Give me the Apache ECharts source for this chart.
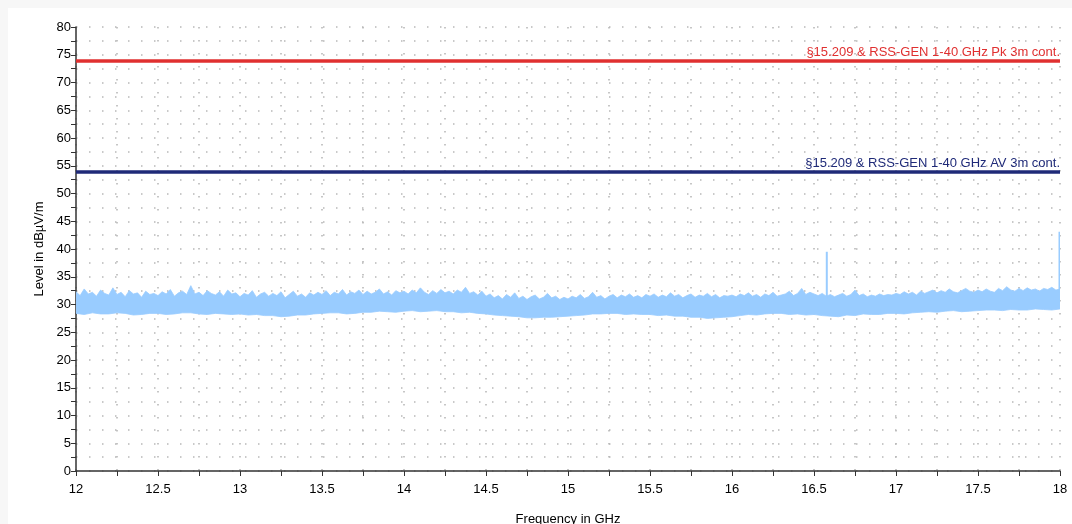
<!DOCTYPE html>
<html>
<head>
<meta charset="utf-8">
<script src="https://cdn.jsdelivr.net/npm/echarts@6/dist/echarts.min.js"></script>
<style>
html,body{margin:0;padding:0;background:#f7f7f7;}
#chart{width:1072px;height:524px;}
</style>
</head>
<body>
<div id="chart"></div>
<script>
// ---- data ----
const xMin = 12, xMax = 18;
const yMin = 0, yMax = 80;
// upper envelope of the noise trace, 12.000 .. 18.000 GHz in 0.025 GHz steps
const highStart = 12, highStep = 0.025;
const noiseHigh = [
 32.3,31.6,32.8,31.9,32.2,31.5,32.6,32.0,31.7,33.0,31.8,32.2,31.4,32.5,31.9,32.1,31.3,32.4,31.8,32.0,
 31.6,32.3,31.9,32.7,31.5,32.1,32.4,31.8,33.4,31.9,32.2,31.6,32.5,32.0,31.7,32.3,31.5,32.6,31.9,32.1,
 31.4,32.0,31.7,32.5,31.3,31.9,32.2,31.5,32.0,31.6,32.3,31.2,31.8,32.4,31.5,31.9,31.3,32.1,31.7,32.2,
 31.8,32.5,31.6,32.2,31.9,32.7,31.7,32.3,32.0,32.6,31.8,32.4,31.9,32.2,32.8,31.9,32.3,31.7,32.5,32.1,
 32.4,31.9,32.6,32.1,33.0,32.2,31.8,32.5,32.0,32.7,32.1,32.4,31.9,32.6,32.2,33.1,32.0,32.3,31.7,32.4,
 31.5,31.9,31.2,31.6,31.0,31.8,31.3,32.1,31.1,31.5,30.9,31.4,31.7,31.0,31.3,32.0,31.2,31.5,30.9,31.3,
 31.0,31.5,31.2,31.8,31.1,31.4,32.2,31.3,31.6,31.0,31.5,31.8,31.2,31.7,31.4,31.9,31.3,31.6,31.2,31.8,
 31.5,31.9,31.3,31.7,31.4,32.1,31.5,31.8,31.2,31.6,31.9,31.3,31.7,31.5,32.0,31.4,31.8,31.2,31.6,31.5,
 31.7,31.4,31.9,31.6,32.1,31.5,31.8,31.3,31.9,31.6,32.2,31.5,31.7,31.9,32.4,31.6,32.0,32.9,31.8,32.2,
 31.9,31.6,32.0,31.5,31.8,31.4,31.7,32.0,31.5,31.8,32.6,31.6,31.9,31.4,31.7,31.5,31.9,31.6,31.8,31.7,
 32.0,31.8,32.3,31.9,32.2,31.7,32.4,32.0,32.3,32.6,32.1,32.5,32.2,32.8,32.3,32.1,32.5,32.9,32.4,32.2,
 32.6,32.3,32.8,32.4,32.2,32.9,32.5,33.2,32.6,32.4,32.9,32.5,33.0,32.6,32.8,32.4,32.9,32.7,33.1,32.6,
 32.8
];
// lower envelope of the noise trace, 12.00 .. 18.00 GHz in 0.05 GHz steps
const lowStart = 12, lowStep = 0.05;
const noiseLow = [
 28.4,28.2,28.5,28.3,28.3,28.5,28.4,28.1,28.2,28.4,28.4,28.2,28.3,28.5,28.5,28.3,28.2,28.4,28.3,28.2,
 28.3,28.1,28.2,28.0,28.0,27.8,27.9,28.1,28.1,28.3,28.4,28.5,28.5,28.3,28.4,28.6,28.6,28.8,28.7,28.6,
 28.8,28.9,28.7,28.8,28.9,28.7,28.7,28.5,28.6,28.4,28.3,28.1,28.0,27.9,27.8,27.6,27.6,27.7,27.7,27.8,
 27.9,28.0,28.1,28.3,28.3,28.4,28.4,28.2,28.3,28.2,28.2,28.0,28.1,27.9,27.9,27.7,27.7,27.5,27.6,27.7,
 27.8,28.0,28.2,28.1,28.3,28.4,28.4,28.2,28.3,28.1,28.2,28.0,27.9,27.8,28.1,28.0,28.3,28.2,28.2,28.4,
 28.4,28.3,28.5,28.6,28.7,28.6,28.8,28.9,28.7,28.8,28.9,29.0,29.0,28.9,29.1,29.0,29.0,29.2,29.1,29.0,
 29.2
];
// isolated spikes
const spikeFreq = [16.578, 17.997];
const spikeBase = [31.0, 32.0];
const spikePeak = [39.5, 43.1];
// limit lines
const limitPk = 74;
const limitAv = 54;
const limitPkLabel = '§15.209 & RSS-GEN 1-40 GHz Pk 3m cont.';
const limitAvLabel = '§15.209 & RSS-GEN 1-40 GHz AV 3m cont.';

const FONT = '"Liberation Sans", Arial, sans-serif';
const chart = echarts.init(document.getElementById('chart'));

function bandRender(params, api) {
  const pts = [];
  for (let i = 0; i < noiseHigh.length; i++) {
    pts.push(api.coord([highStart + i * highStep, noiseHigh[i]]));
  }
  for (let i = noiseLow.length - 1; i >= 0; i--) {
    pts.push(api.coord([lowStart + i * lowStep, noiseLow[i]]));
  }
  return {
    type: 'polygon',
    shape: { points: pts },
    style: { fill: '#99ccff', stroke: '#99ccff', lineWidth: 0.8 }
  };
}

function spikeRender(params, api) {
  const i = params.dataIndex;
  const a = api.coord([spikeFreq[i], spikeBase[i]]);
  const b = api.coord([spikeFreq[i], spikePeak[i]]);
  return {
    type: 'line',
    shape: { x1: a[0], y1: a[1], x2: b[0], y2: b[1] },
    style: { stroke: '#99ccff', lineWidth: 2 }
  };
}

const option = {
  animation: false,
  backgroundColor: 'transparent',
  graphic: [{
    type: 'rect', left: 8, top: 8, z: -10,
    shape: { width: 1064, height: 516 },
    style: { fill: '#ffffff' }
  }],
  grid: { left: 76, right: 12, top: 27, bottom: 53, outerBoundsMode: 'none', containLabel: false },
  xAxis: {
    type: 'value', min: xMin, max: xMax, interval: 0.25,
    name: 'Frequency in GHz', nameLocation: 'middle', nameGap: 42,
    nameTextStyle: { fontFamily: FONT, fontSize: 13, color: '#000' },
    axisLine: { lineStyle: { color: '#333', width: 1.5 } },
    axisTick: { length: 5, lineStyle: { color: '#333' } },
    axisLabel: {
      fontFamily: FONT, fontSize: 13, color: '#000', margin: 12,
      formatter: v => (Math.abs(v * 2 - Math.round(v * 2)) < 1e-6 ? String(+v.toFixed(2)) : '')
    },
    splitLine: { show: true, lineStyle: { color: '#b8b8b8', type: [1.5, 11.5], width: 1.6 } }
  },
  yAxis: {
    type: 'value', min: yMin, max: yMax, interval: 2.5,
    name: 'Level in dBµV/m', nameLocation: 'middle', nameGap: 30,
    nameTextStyle: { fontFamily: FONT, fontSize: 13, color: '#000' },
    axisLine: { show: true, lineStyle: { color: '#333', width: 1.5 } },
    axisTick: { show: true, length: 5, lineStyle: { color: '#333' } },
    axisLabel: {
      fontFamily: FONT, fontSize: 13, color: '#000', margin: 5,
      formatter: v => (Math.abs(v % 5) < 1e-6 ? String(v) : '')
    },
    splitLine: { show: true, lineStyle: { color: '#b8b8b8', type: [1.5, 11.5], width: 1.6 } }
  },
  series: [
    {
      type: 'custom', name: 'noise', renderItem: bandRender,
      data: [[xMin, noiseLow[0]]], clip: true, silent: true, z: 3
    },
    {
      type: 'custom', name: 'spikes', renderItem: spikeRender,
      data: spikeFreq.map((f, i) => [f, spikePeak[i]]), clip: true, silent: true, z: 3
    },
    {
      type: 'line', name: 'Pk', data: [], silent: true, z: 4,
      markLine: {
        symbol: 'none', silent: true, animation: false,
        lineStyle: { color: '#e03030', width: 3.5, type: 'solid' },
        label: { show: true, position: 'insideEndTop', distance: [0, 1], formatter: limitPkLabel,
                 color: '#e03030', fontFamily: FONT, fontSize: 13 },
        data: [{ yAxis: limitPk }]
      }
    },
    {
      type: 'line', name: 'AV', data: [], silent: true, z: 4,
      markLine: {
        symbol: 'none', silent: true, animation: false,
        lineStyle: { color: '#1f2a78', width: 3.5, type: 'solid' },
        label: { show: true, position: 'insideEndTop', distance: [0, 1], formatter: limitAvLabel,
                 color: '#1f2a78', fontFamily: FONT, fontSize: 13 },
        data: [{ yAxis: limitAv }]
      }
    }
  ]
};
chart.setOption(option);
</script>
</body>
</html>
